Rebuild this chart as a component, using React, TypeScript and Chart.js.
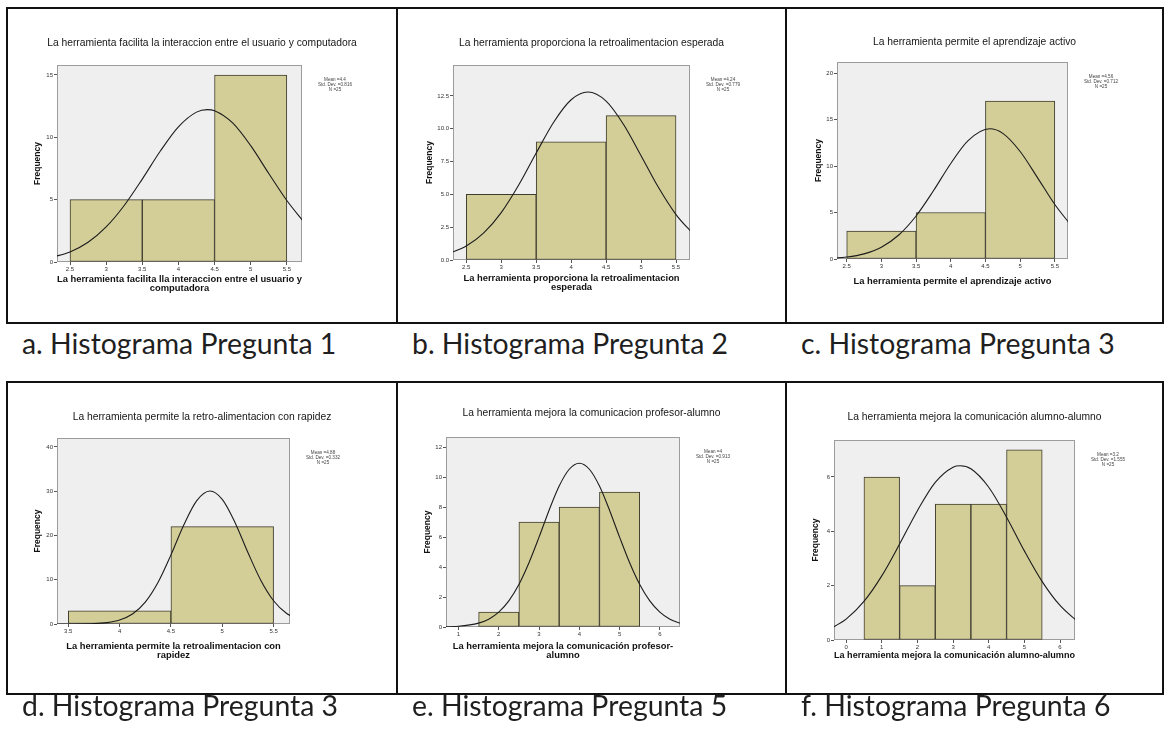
import React, { useEffect, useRef } from "react";
import { Chart, registerables } from "chart.js";

Chart.register(...registerables);

// ---------------- DATA ----------------
const captions = [
  "a. Histograma Pregunta 1",
  "b. Histograma Pregunta 2",
  "c. Histograma Pregunta 3",
  "d. Histograma Pregunta 3",
  "e. Histograma Pregunta 5",
  "f. Histograma Pregunta 6",
];

const titles = [
  "La herramienta facilita la interaccion entre el usuario y computadora",
  "La herramienta proporciona la retroalimentacion esperada",
  "La herramienta permite el aprendizaje activo",
  "La herramienta permite la retro-alimentacion con rapidez",
  "La herramienta mejora la comunicacion profesor-alumno",
  "La herramienta mejora la comunicación alumno-alumno",
];

const xTitles: (string | string[])[] = [
  ["La herramienta facilita lla interaccion entre el usuario y", "computadora"],
  ["La herramienta proporciona la retroalimentacion", "esperada"],
  "La herramienta permite el aprendizaje activo",
  ["La herramienta permite la retroalimentacion con", "rapidez"],
  ["La herramienta mejora la comunicación profesor-", "alumno"],
  "La herramienta mejora la comunicación alumno-alumno",
];

// bin centres and frequencies
const binsA = [3, 4, 5];
const countsA = [5, 5, 15];
const binsB = [3, 4, 5];
const countsB = [5, 9, 11];
const binsC = [3, 4, 5];
const countsC = [3, 5, 17];
const binsD = [4, 5];
const countsD = [3, 22];
const binsE = [2, 3, 4, 5];
const countsE = [1, 7, 8, 9];
const binsF = [1, 2, 3, 4, 5];
const countsF = [6, 2, 5, 5, 7];

// normal curves
const curveAX = [2.25, 2.5, 2.75, 3, 3.25, 3.5, 3.75, 4, 4.25, 4.4, 4.5, 4.75, 5, 5.25, 5.5, 5.75];
const curveAY = [0.38, 0.81, 1.58, 2.81, 4.53, 6.65, 8.9, 10.84, 12.02, 12.22, 12.13, 11.15, 9.33, 7.1, 4.93, 3.11];
const curveBX = [2.25, 2.5, 2.75, 3, 3.25, 3.5, 3.75, 4, 4.24, 4.5, 4.75, 5, 5.25, 5.5, 5.75];
const curveBY = [0.49, 1.06, 2.06, 3.61, 5.71, 8.15, 10.5, 12.21, 12.8, 12.11, 10.33, 7.95, 5.52, 3.46, 1.96];
const curveCX = [2.25, 2.5, 2.75, 3, 3.25, 3.5, 3.75, 4, 4.25, 4.56, 4.75, 5, 5.25, 5.5, 5.75];
const curveCY = [0.07, 0.21, 0.55, 1.27, 2.58, 4.63, 7.34, 10.28, 12.74, 14.01, 13.52, 11.57, 8.76, 5.86, 3.47];
const curveDX = [3.25, 3.5, 3.75, 3.875, 4, 4.125, 4.25, 4.375, 4.5, 4.625, 4.75, 4.88, 5, 5.125, 5.25, 5.375, 5.5, 5.625, 5.75];
const curveDY = [0, 0.01, 0.09, 0.31, 0.9, 2.26, 4.96, 9.44, 15.61, 22.36, 27.82, 30.04, 28.14, 22.88, 16.14, 9.88, 5.25, 2.42, 0.97];
const curveEX = [0.5, 1, 1.5, 1.75, 2, 2.25, 2.5, 2.75, 3, 3.25, 3.5, 3.75, 4, 4.25, 4.5, 4.75, 5, 5.25, 5.5, 5.75, 6, 6.25, 6.5];
const curveEY = [0.01, 0.05, 0.26, 0.52, 0.99, 1.74, 2.83, 4.28, 5.99, 7.79, 9.4, 10.52, 10.92, 10.52, 9.4, 7.79, 5.99, 4.28, 2.83, 1.74, 0.99, 0.52, 0.26];
const curveFX = [-0.5, 0, 0.5, 1, 1.5, 2, 2.5, 3, 3.2, 3.5, 4, 4.5, 5, 5.5, 6, 6.5];
const curveFY = [0.38, 0.77, 1.42, 2.36, 3.53, 4.76, 5.8, 6.36, 6.41, 6.3, 5.62, 4.52, 3.28, 2.15, 1.27, 0.67];

// axis ranges and steps
const xRanges = [
  [2.32, 5.71],
  [2.31, 5.7],
  [2.36, 5.69],
  [3.39, 5.66],
  [0.69, 6.5],
  [-0.34, 6.42],
];
const xSteps = [0.5, 0.5, 0.5, 0.5, 1, 1];
const yMaxes = [15.8, 14.86, 21.2, 42, 12.67, 7.36];
const ySteps = [5, 2.5, 5, 10, 2, 2];
const yDecimals = [0, 1, 0, 0, 0, 0];

const statLines = [
  ["Mean =4.4", "Std. Dev. =0.816", "N =25"],
  ["Mean =4.24", "Std. Dev. =0.779", "N =25"],
  ["Mean =4.56", "Std. Dev. =0.712", "N =25"],
  ["Mean =4.88", "Std. Dev. =0.332", "N =25"],
  ["Mean =4", "Std. Dev. =0.913", "N =25"],
  ["Mean =3.2", "Std. Dev. =1.555", "N =25"],
];

const allBins = [binsA, binsB, binsC, binsD, binsE, binsF];
const allCounts = [countsA, countsB, countsC, countsD, countsE, countsF];
const allCurveX = [curveAX, curveBX, curveCX, curveDX, curveEX, curveFX];
const allCurveY = [curveAY, curveBY, curveCY, curveDY, curveEY, curveFY];

// ---------------- LAYOUT (style only) ----------------
const colX = [6, 396, 785, 1162];
const rowTop = [7, 381];
const rowBottom = [322, 693];

type Geo = {
  area: { l: number; r: number; t: number; b: number };
  titleCY: number;
  yTitleCX: number;
  xLastCY: number;
};

const geos: Geo[] = [
  { area: { l: 49, r: 294, t: 56, b: 253 }, titleCY: 34, yTitleCX: 30, xLastCY: 279 },
  { area: { l: 55, r: 292, t: 56, b: 251 }, titleCY: 34, yTitleCX: 32, xLastCY: 278 },
  { area: { l: 50, r: 281, t: 53, b: 250 }, titleCY: 33, yTitleCX: 32, xLastCY: 272 },
  { area: { l: 49, r: 282, t: 55, b: 241 }, titleCY: 34, yTitleCX: 30, xLastCY: 272 },
  { area: { l: 48, r: 282, t: 54, b: 244 }, titleCY: 30, yTitleCX: 30, xLastCY: 272 },
  { area: { l: 47, r: 288, t: 57, b: 257 }, titleCY: 34, yTitleCX: 29, xLastCY: 272 },
];

const FONT = '"Liberation Sans", Arial, sans-serif';
const TITLE_SIZE = 10.3;
const XT_LH = 9;

const framePlugin = {
  id: "frame",
  beforeDraw(chart: any) {
    const { ctx, chartArea: a } = chart;
    ctx.save();
    ctx.fillStyle = "#efefef";
    ctx.fillRect(a.left, a.top, a.right - a.left, a.bottom - a.top);
    ctx.strokeStyle = "#9c9c9c";
    ctx.lineWidth = 1;
    ctx.strokeRect(a.left + 0.5, a.top + 0.5, a.right - a.left - 1, a.bottom - a.top - 1);
    ctx.restore();
  },
};

const statsPlugin = {
  id: "stats",
  afterDraw(chart: any, _args: any, opts: any) {
    if (!opts || !opts.lines) return;
    const { ctx, chartArea: a } = chart;
    ctx.save();
    ctx.font = `4.6px ${FONT}`;
    ctx.fillStyle = "#444";
    ctx.textAlign = "center";
    ctx.textBaseline = "middle";
    opts.lines.forEach((t: string, i: number) => {
      ctx.fillText(t, a.right + 33, a.top + 15 + i * 4.7);
    });
    ctx.restore();
  },
};

function Panel({ idx }: { idx: number }) {
  const ref = useRef<HTMLCanvasElement | null>(null);
  const col = idx % 3;
  const row = Math.floor(idx / 3);
  const left = colX[col] + 2;
  const top = rowTop[row] + 2;
  const w = colX[col + 1] - colX[col] - 2;
  const h = rowBottom[row] - rowTop[row] - 2;
  const g = geos[idx];

  useEffect(() => {
    if (!ref.current) return;
    const tlh = TITLE_SIZE * 1.2;
    const tTop = g.titleCY - tlh / 2;
    const tBot = g.area.t - tTop - tlh;
    const xPadB = h - g.xLastCY - XT_LH / 2;
    const yPadTop = g.yTitleCX - 5.1;
    const bins = allBins[idx];
    const counts = allCounts[idx];
    const cx = allCurveX[idx];
    const cy = allCurveY[idx];
    const dec = yDecimals[idx];

    const chart = new Chart(ref.current, {
      type: "bar",
      data: {
        datasets: [
          {
            type: "line",
            data: cx.map((x, i) => ({ x, y: cy[i] })),
            borderColor: "#1c1c1c",
            borderWidth: 1.1,
            pointRadius: 0,
            cubicInterpolationMode: "monotone",
            fill: false,
            order: 0,
          } as any,
          {
            type: "bar",
            data: bins.map((x, i) => ({ x, y: counts[i] })),
            backgroundColor: "#d3cd98",
            borderColor: "#3e3c2c",
            borderWidth: 1,
            borderSkipped: false,
            barThickness: "flex",
            barPercentage: 1,
            categoryPercentage: 1,
            order: 1,
          } as any,
        ],
      },
      options: {
        animation: false,
        responsive: false,
        events: [],
        layout: { padding: 0 },
        plugins: {
          legend: { display: false },
          tooltip: { enabled: false },
          title: {
            display: true,
            text: titles[idx],
            color: "#151515",
            font: { family: FONT, size: TITLE_SIZE, weight: "normal" },
            padding: { top: tTop, bottom: tBot },
          },
          stats: { lines: statLines[idx] },
        } as any,
        scales: {
          x: {
            type: "linear",
            min: xRanges[idx][0],
            max: xRanges[idx][1],
            offset: false,
            afterFit: (s: any) => {
              s.height = h - g.area.b;
            },
            ticks: {
              stepSize: xSteps[idx],
              includeBounds: false,
              autoSkip: false,
              maxRotation: 0,
              padding: 1,
              color: "#333",
              font: { family: FONT, size: 6 },
              callback: (v: any) => String(Number(Number(v).toFixed(2))),
            },
            grid: {
              display: true,
              drawOnChartArea: false,
              drawTicks: true,
              tickLength: 3,
              color: "#555",
              offset: false,
            },
            border: { display: false },
            title: {
              display: true,
              text: xTitles[idx],
              color: "#111",
              font: { family: FONT, size: 9.4, weight: "bold", lineHeight: `${XT_LH}px` },
              padding: { top: 0, bottom: xPadB },
            },
          } as any,
          y: {
            type: "linear",
            min: 0,
            max: yMaxes[idx],
            afterFit: (s: any) => {
              s.width = g.area.l;
            },
            ticks: {
              stepSize: ySteps[idx],
              includeBounds: false,
              padding: 1,
              color: "#333",
              font: { family: FONT, size: 6 },
              callback: (v: any) => Number(v).toFixed(dec),
            },
            grid: {
              display: true,
              drawOnChartArea: false,
              drawTicks: true,
              tickLength: 3,
              color: "#555",
            },
            border: { display: false },
            title: {
              display: true,
              text: "Frequency",
              color: "#111",
              font: { family: FONT, size: 8.5, weight: "bold" },
              padding: { top: yPadTop, bottom: 0 },
            },
          } as any,
          side: {
            type: "linear",
            position: "right",
            display: true,
            afterFit: (s: any) => {
              s.width = w - g.area.r;
            },
            ticks: { display: false },
            grid: { display: false, drawTicks: false },
            border: { display: false },
            title: { display: false },
          } as any,
        },
      },
      plugins: [framePlugin, statsPlugin],
    });
    return () => chart.destroy();
  }, [idx]);

  return (
    <canvas
      ref={ref}
      width={w}
      height={h}
      style={{ position: "absolute", left, top, width: w, height: h }}
    />
  );
}

function Lines() {
  const els: React.ReactNode[] = [];
  const lineColor = "#111";
  [0, 1].forEach((r) => {
    [rowTop[r], rowBottom[r]].forEach((y, k) => {
      els.push(
        <div
          key={`h${r}${k}`}
          style={{ position: "absolute", left: colX[0], top: y, width: colX[3] - colX[0] + 2, height: 2, background: lineColor }}
        />
      );
    });
    colX.forEach((x, k) => {
      els.push(
        <div
          key={`v${r}${k}`}
          style={{ position: "absolute", left: x, top: rowTop[r], width: 2, height: rowBottom[r] - rowTop[r] + 2, background: lineColor }}
        />
      );
    });
  });
  return <>{els}</>;
}

export default function App() {
  return (
    <div style={{ position: "absolute", left: 0, top: 0, width: 1167, height: 733, background: "#fff", overflow: "hidden" }}>
      <Lines />
      {[0, 1, 2, 3, 4, 5].map((i) => (
        <Panel key={i} idx={i} />
      ))}
      {captions.map((c, i) => {
        const col = i % 3;
        const row = Math.floor(i / 3);
        const baseline = row === 0 ? 354 : 716;
        return (
          <div
            key={c}
            style={{
              position: "absolute",
              left: colX[col] + 16,
              top: baseline - 25,
              fontFamily: "Lato, 'Open Sans', sans-serif",
              fontSize: 28.4,
              lineHeight: "28px",
              color: "#1f1f1f",
              whiteSpace: "nowrap",
            }}
          >
            {c}
          </div>
        );
      })}
    </div>
  );
}
